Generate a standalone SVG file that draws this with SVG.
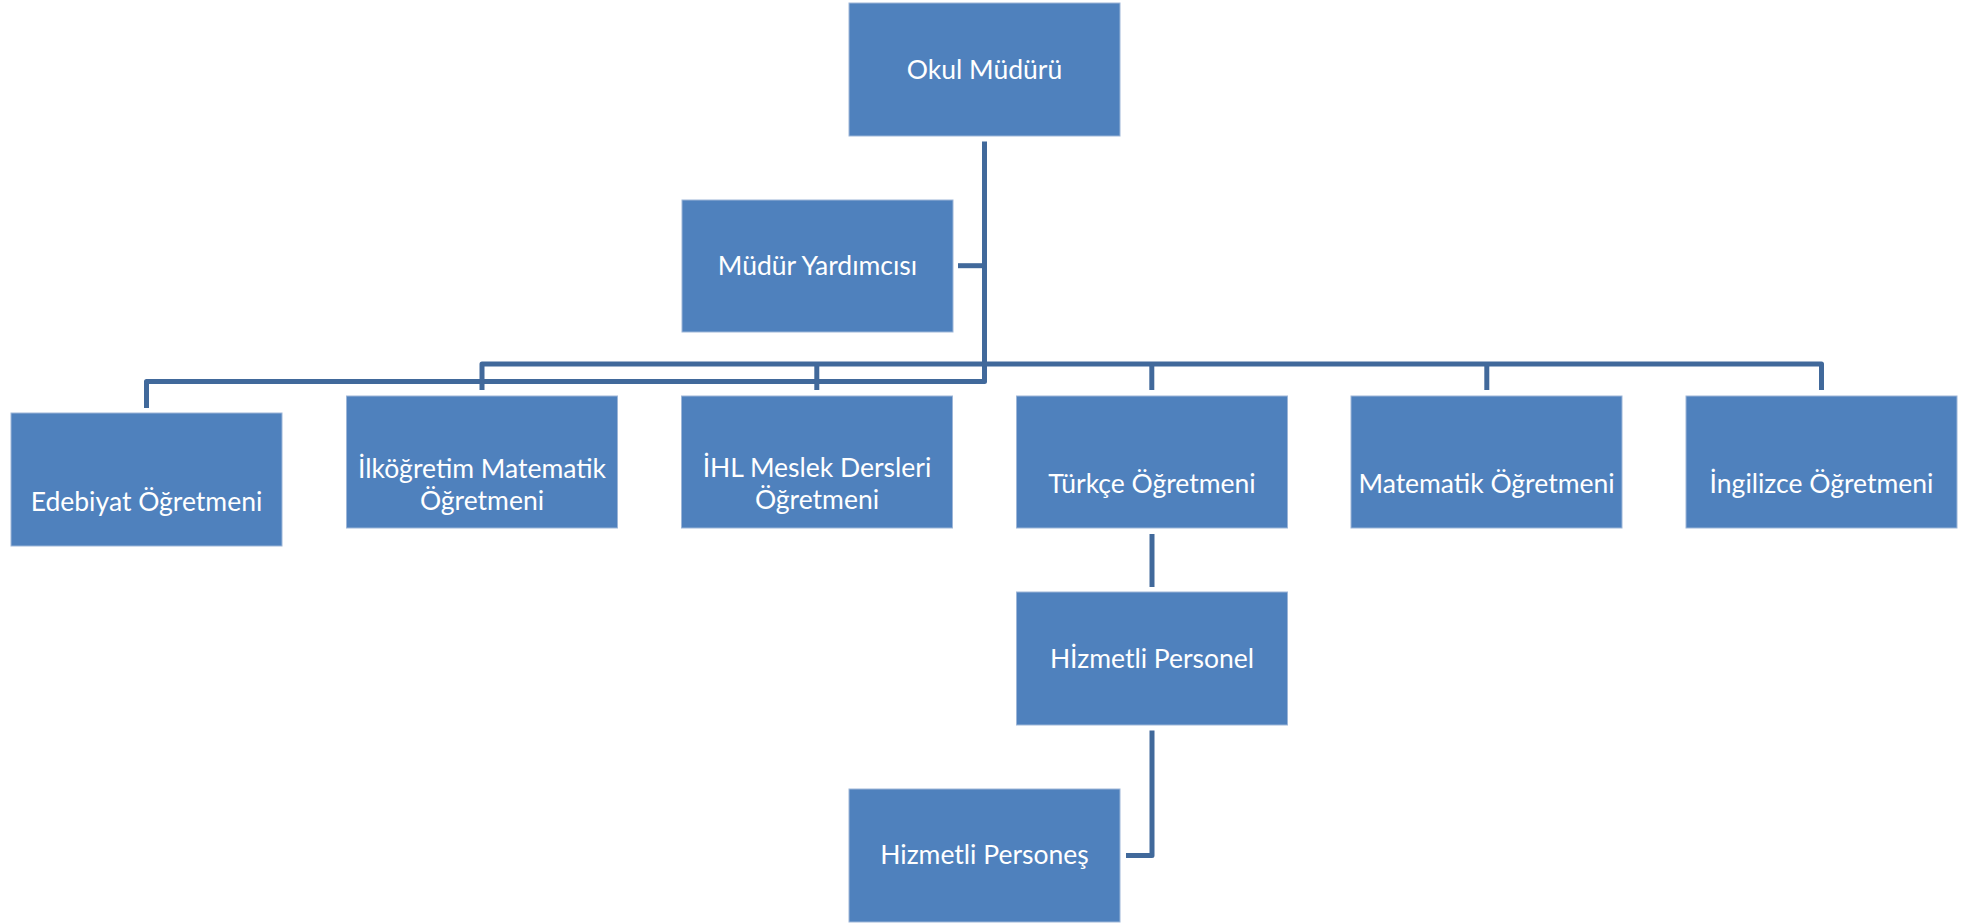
<svg xmlns="http://www.w3.org/2000/svg" width="1982" height="923" viewBox="0 0 1982 923">
  <style>
    .box { fill: #4F81BD; stroke: #9DB6D8; stroke-width: 1; }
    .lbl { font-family: Lato, "Open Sans", "Liberation Sans", sans-serif; font-size: 26.5px; fill: #FFFFFF; text-anchor: middle; }
    .con { fill: none; stroke: #41699B; stroke-width: 5; stroke-linejoin: round; stroke-linecap: butt; }
  </style>
  <rect width="1982" height="923" fill="#FFFFFF"/>

  <g id="connectors">
    <path class="con" d="M984.5,141.5 V381.5 H146.5 V408"/>
    <path class="con" d="M482,390 V364 H1821.5 V390"/>
    <path class="con" d="M816.8,364 V390"/>
    <path class="con" d="M1151.8,364 V390"/>
    <path class="con" d="M1486.8,364 V390"/>
    <path class="con" d="M958,265.7 H984.5"/>
    <path class="con" d="M1152,534 V587"/>
    <path class="con" d="M1152,730.5 V855.5 H1126"/>
  </g>

  <g id="node-okul-muduru">
    <rect class="box" x="849" y="3" width="271" height="133"/>
    <text class="lbl" x="984.5" y="78.5">Okul Müdürü</text>
  </g>
  <g id="node-mudur-yardimcisi">
    <rect class="box" x="682" y="200" width="271" height="132"/>
    <text class="lbl" x="817.5" y="275">Müdür Yardımcısı</text>
  </g>
  <g id="node-edebiyat">
    <rect class="box" x="11" y="413" width="271" height="133"/>
    <text class="lbl" x="146.5" y="511">Edebiyat Öğretmeni</text>
  </g>
  <g id="node-ilkogretim">
    <rect class="box" x="346.5" y="396" width="271" height="132"/>
    <text class="lbl" x="482" y="477.5">İlköğretim Matematik<tspan x="482" dy="32">Öğretmeni</tspan></text>
  </g>
  <g id="node-ihl">
    <rect class="box" x="681.5" y="396" width="271" height="132"/>
    <text class="lbl" x="817" y="476.5">İHL Meslek Dersleri<tspan x="817" dy="32">Öğretmeni</tspan></text>
  </g>
  <g id="node-turkce">
    <rect class="box" x="1016.5" y="396" width="271" height="132"/>
    <text class="lbl" x="1152" y="492.5">Türkçe Öğretmeni</text>
  </g>
  <g id="node-matematik">
    <rect class="box" x="1351" y="396" width="271" height="132"/>
    <text class="lbl" x="1486.5" y="493">Matematik Öğretmeni</text>
  </g>
  <g id="node-ingilizce">
    <rect class="box" x="1686" y="396" width="271" height="132"/>
    <text class="lbl" x="1821.5" y="493">İngilizce Öğretmeni</text>
  </g>
  <g id="node-hizmetli-personel">
    <rect class="box" x="1016.5" y="592" width="271" height="133"/>
    <text class="lbl" x="1152" y="668">Hİzmetli Personel</text>
  </g>
  <g id="node-hizmetli-persones">
    <rect class="box" x="849" y="789" width="271" height="133"/>
    <text class="lbl" x="984.5" y="863.5">Hizmetli Personeş</text>
  </g>
</svg>
